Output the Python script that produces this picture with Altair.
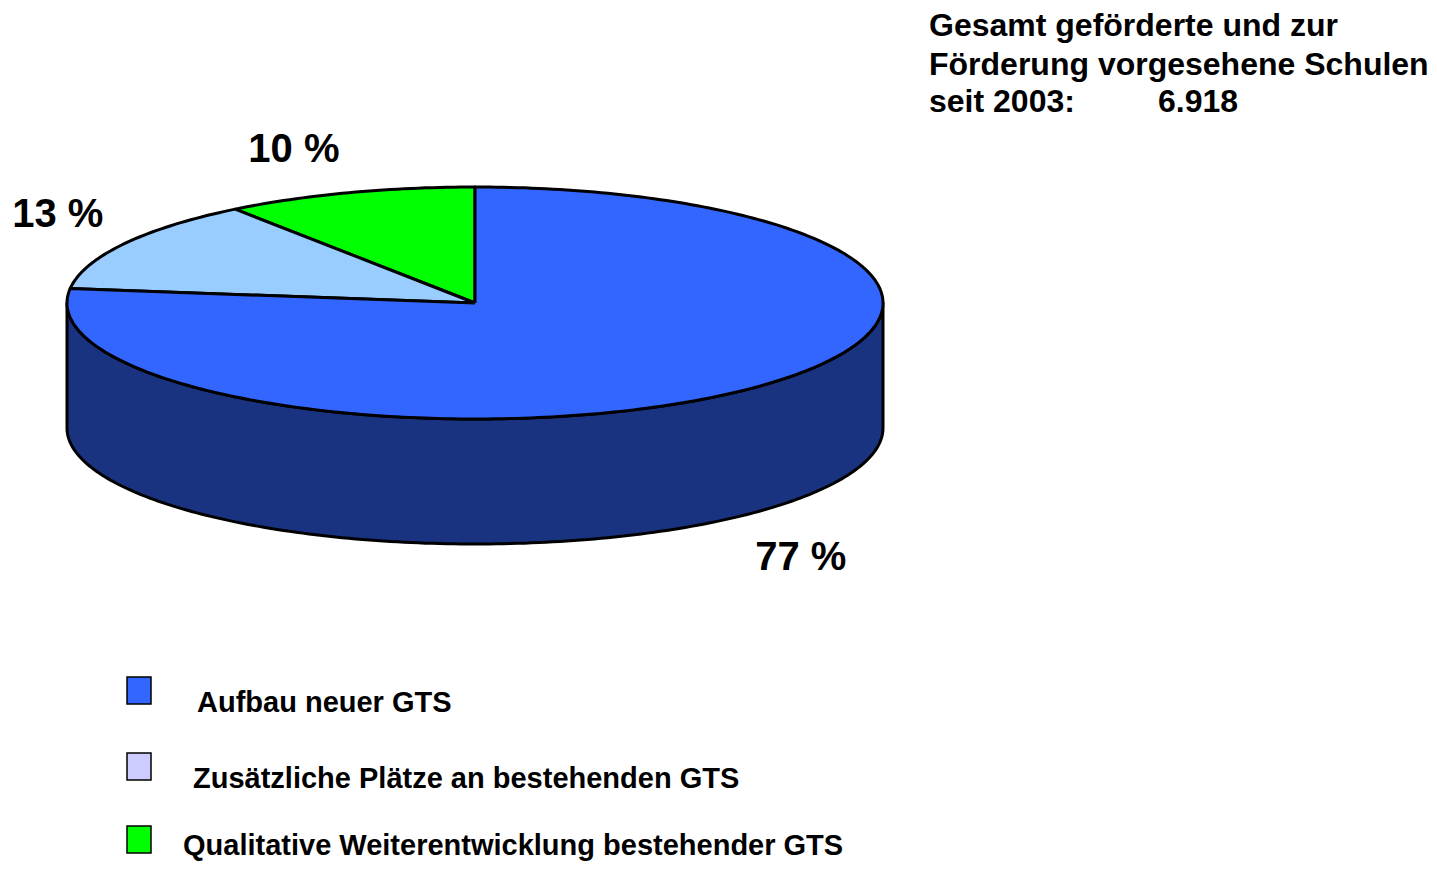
import math
import altair as alt
import pandas as pd

# ---------------- data ----------------
categories = [
    "Aufbau neuer GTS",
    "Zusätzliche Plätze an bestehenden GTS",
    "Qualitative Weiterentwicklung bestehender GTS",
]
shares = [77, 13, 10]
share_labels = ["77 %", "13 %", "10 %"]
slice_colors = ["#3366ff", "#99ccff", "#00ff00"]
legend_colors = ["#3366ff", "#ccccff", "#00ff00"]
side_color = "#1a3380"
title_lines = ["Gesamt geförderte und zur", "Förderung vorgesehene Schulen", "seit 2003:"]
total_value = "6.918"

# ---------------- layout (page pixel space) ----------------
W, H = 1421, 853
M = 8
CX, CY, RX, RY, DEPTH = 475, 303, 408, 116, 125
FONT = "Liberation Sans"
# label offsets from the rim point at each slice's mid angle
label_offsets = [(56, 55), (-66, -17), (-55, -31)]
legend_box_x = 127
legend_box_w = 24
legend_box_top = [677, 753, 826]
legend_box_h = 27
legend_text_x = [197, 193, 183]
legend_text_base = [712, 788, 855]
title_x = 929
title_base = [36, 75, 112]
total_x = 1158

xs = alt.Scale(domain=[M, M + W], range=[0, W], nice=False, zero=False)
ys = alt.Scale(domain=[M, M + H], range=[0, H], nice=False, zero=False)


def rim(t_deg, k=1.0, dy=0.0):
    t = math.radians(t_deg)
    return CX + k * RX * math.sin(t), CY - k * RY * math.cos(t) + dy


def arc(a0, a1, dy=0.0):
    n = max(2, int(abs(a1 - a0) / 1.0) + 1)
    return [rim(a0 + (a1 - a0) * j / (n - 1), dy=dy) for j in range(n)]


layers = []


def poly_layer(points, fill):
    pts = points + [points[0]]
    df = pd.DataFrame({"i": list(range(len(pts))),
                       "x": [p[0] for p in pts],
                       "y": [p[1] for p in pts]})
    return alt.Chart(df).mark_line(
        fill=fill, stroke="black", strokeWidth=3, strokeJoin="round"
    ).encode(
        x=alt.X("x:Q", scale=xs, axis=None),
        y=alt.Y("y:Q", scale=ys, axis=None),
        order=alt.Order("i:Q"),
    )


# side wall (front half of the cylinder)
side = arc(-90, -270) + arc(-270, -90, dy=DEPTH)
layers.append(poly_layer(side, side_color))

# top slices, starting at 12 o'clock, counterclockwise (last category first)
start = 0.0
label_rows = []
for idx in reversed(range(len(categories))):
    end = start - 360.0 * shares[idx] / 100.0
    pts = [(CX, CY)] + arc(start, end)
    layers.append(poly_layer(pts, slice_colors[idx]))
    mid = (start + end) / 2
    mx, my = rim(mid)
    if math.cos(math.radians(mid)) < 0:
        my += DEPTH
    ox, oy = label_offsets[idx]
    label_rows.append({"x": mx + ox, "y": my + oy, "t": share_labels[idx]})
    start = end

labels = alt.Chart(pd.DataFrame(label_rows)).mark_text(
    font=FONT, fontSize=40, fontWeight="bold", color="black",
    align="center", baseline="alphabetic"
).encode(x=alt.X("x:Q", scale=xs, axis=None), y=alt.Y("y:Q", scale=ys, axis=None), text="t:N")
layers.append(labels)

# title block
title_df = pd.DataFrame({"x": [title_x] * len(title_lines) + [total_x],
                         "y": title_base + [title_base[-1]],
                         "t": title_lines + [total_value]})
title = alt.Chart(title_df).mark_text(
    font=FONT, fontSize=32, fontWeight="bold", color="black",
    align="left", baseline="alphabetic"
).encode(x=alt.X("x:Q", scale=xs, axis=None), y=alt.Y("y:Q", scale=ys, axis=None), text="t:N")
layers.append(title)

# legend
leg_df = pd.DataFrame({
    "x": [legend_box_x] * 3,
    "x2": [legend_box_x + legend_box_w] * 3,
    "y": legend_box_top,
    "y2": [v + legend_box_h for v in legend_box_top],
    "c": legend_colors,
    "tx": legend_text_x,
    "ty": legend_text_base,
    "t": categories,
})
leg_boxes = alt.Chart(leg_df).mark_rect(stroke="black", strokeWidth=1.5).encode(
    x=alt.X("x:Q", scale=xs, axis=None), x2="x2:Q",
    y=alt.Y("y:Q", scale=ys, axis=None), y2="y2:Q",
    fill=alt.Fill("c:N", scale=None),
)
leg_text = alt.Chart(leg_df).mark_text(
    font=FONT, fontSize=29, fontWeight="bold", color="black",
    align="left", baseline="alphabetic"
).encode(x=alt.X("tx:Q", scale=xs, axis=None), y=alt.Y("ty:Q", scale=ys, axis=None), text="t:N")
layers += [leg_boxes, leg_text]

chart = alt.layer(*layers).properties(
    width=W, height=H, padding=0, autosize=alt.AutoSizeParams(type="none"),
    background="white",
).configure_view(stroke=None)

chart.save("out.html", embed_options={"renderer": "svg", "actions": False})
